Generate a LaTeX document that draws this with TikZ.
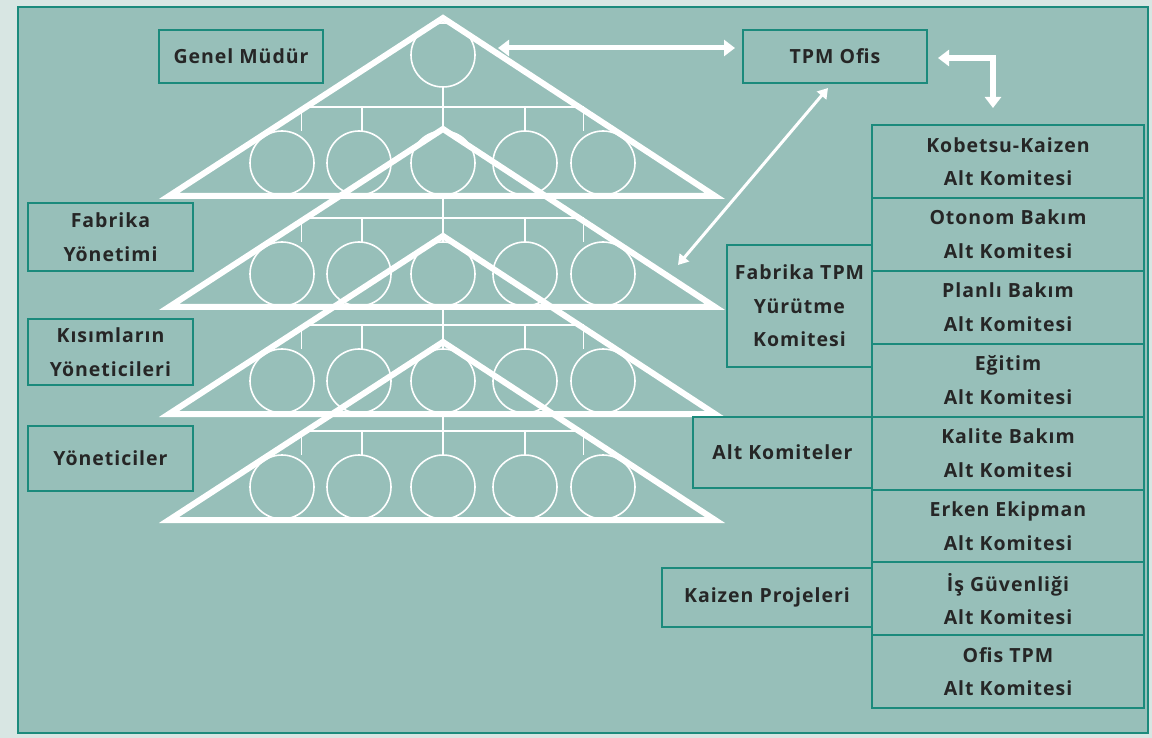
\documentclass[tikz,border=0pt]{standalone}
\usepackage{fontspec}
\setmainfont{Open Sans}[BoldFont={Open Sans Bold},BoldFeatures={LetterSpace=5}]
\usetikzlibrary{arrows.meta}
\definecolor{bgfill}{HTML}{97BFB9}
\definecolor{margin}{HTML}{D8E6E3}
\definecolor{tealline}{HTML}{1B8A7C}
\definecolor{txt}{HTML}{262626}
\begin{document}
\begin{tikzpicture}[x=1pt,y=-1pt,
  lbl/.style={draw=tealline, line width=2pt, inner sep=0pt, align=center,
    text=txt, font=\bfseries\fontsize{19.5}{33.5}\selectfont},
  tri/.style={draw=white, line width=6pt, line join=miter},
  thin/.style={draw=white, line width=1.8pt},
  circ/.style={draw=white, line width=1.6pt},
  bigarrow/.style={draw=white, line width=5pt, {Triangle[length=11pt,width=16pt]}-{Triangle[length=11pt,width=16pt]}},
  midarrow/.style={draw=white, line width=3pt, {Triangle[length=10pt,width=12pt]}-{Triangle[length=10pt,width=12pt]}}
]
\useasboundingbox (0,0) rectangle (1152,738);
\fill[margin] (0,0) rectangle (1152,738);
\filldraw[fill=bgfill, draw=tealline, line width=2pt] (18,7) rectangle (1148,733);

% pyramids
\foreach \d in {0,111,218,324}{
  \draw[tri] (169,196+\d) -- (443,18+\d) -- (715,196+\d) -- cycle;
  \draw[thin] (301.5,107+\d) -- (583.5,107+\d);
  \foreach \x in {301.5,362,525,583.5}{
    \draw[thin] (\x,107+\d) -- (\x,131+\d);
  }
  \draw[thin] (443,87+\d) -- (443,131+\d);
  \foreach \x in {282,359,443,525,603}{
    \draw[circ] (\x,163+\d) circle[radius=32];
  }
}
\draw[circ] (443,55) circle[radius=32];

% text boxes
\node[lbl, minimum width=164pt, minimum height=53pt] (gm) at (241,56.5) {Genel Müdür};
\node[lbl, minimum width=184pt, minimum height=53pt] (tpm) at (835,56.5) {TPM Ofis};
\node[lbl, minimum width=165pt, minimum height=68pt] (fy) at (110.5,237) {Fabrika\\Yönetimi};
\node[lbl, minimum width=165pt, minimum height=66pt] (ky) at (110.5,352) {Kısımların\\Yöneticileri};
\node[lbl, minimum width=165pt, minimum height=65pt] (yo) at (110.5,458.5) {Yöneticiler};
\node[lbl, minimum width=145pt, minimum height=122pt] (fty) at (799.5,306) {Fabrika TPM\\Yürütme\\Komitesi};
\node[lbl, minimum width=179pt, minimum height=71pt] (ak) at (782.5,452.5) {Alt Komiteler};
\node[lbl, minimum width=210pt, minimum height=59pt] (kp) at (767,597.5) {Kaizen Projeleri};

\foreach \t [count=\i from 0] in {Kobetsu-Kaizen,Otonom Bakım,Planlı Bakım,Eğitim,Kalite Bakım,Erken Ekipman,İş Güvenliği,Ofis TPM}{
  \node[lbl, minimum width=272pt, minimum height=72.9pt] (c\i) at (1008,{161.45+72.9*\i}) {\t\\Alt Komitesi};
}

% arrows
\coordinate (a1) at (498,48);
\coordinate (a2) at (735,48);
\draw[bigarrow] (a1) -- (a2);
\coordinate (b1) at (938,58);
\coordinate (b2) at (993,108);
\draw[bigarrow, line width=6pt] (b1) -| (b2);
\coordinate (d1) at (828,88);
\coordinate (d2) at (678,265);
\draw[midarrow] (d1) -- (d2);
\end{tikzpicture}
\end{document}
